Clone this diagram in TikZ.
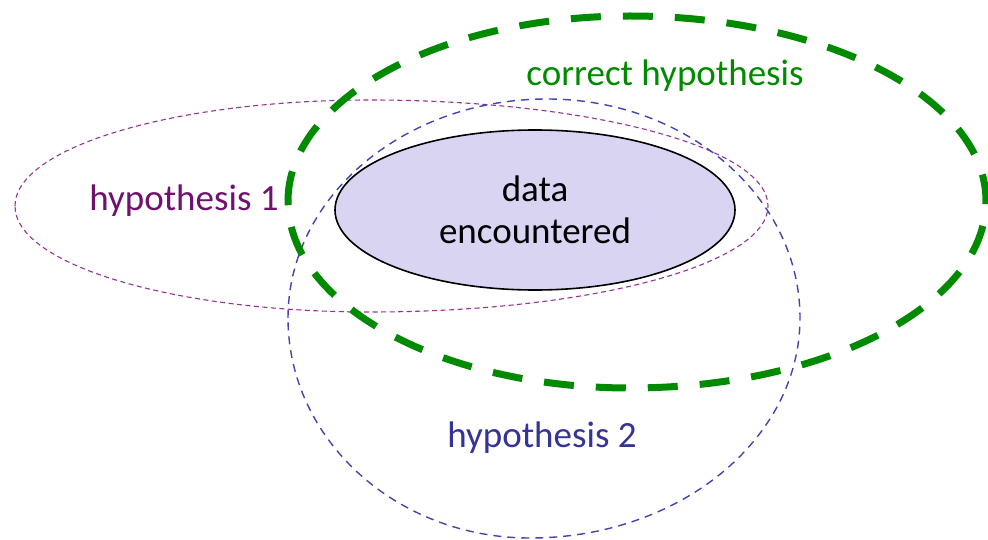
\documentclass[tikz,border=0pt]{standalone}
\usepackage{fontspec}
\setmainfont{Carlito}
\usetikzlibrary{shapes.geometric}
\definecolor{hypA}{RGB}{112,16,112}
\definecolor{hypAline}{RGB}{150,50,150}
\definecolor{hypB}{RGB}{51,51,153}
\definecolor{hypBline}{RGB}{68,68,176}
\definecolor{rightgreen}{RGB}{0,138,0}
\definecolor{datafill}{RGB}{217,212,242}
\tikzset{
  label text/.style={font=\fontsize{37}{42}\selectfont},
}
\begin{document}
\begin{tikzpicture}[x=1pt,y=-1pt]
\useasboundingbox (0,0) rectangle (988,540);
% hypothesis 1
\draw[hypAline,line width=1.1pt,dash pattern=on 5pt off 3.5pt]
  (15,206) arc[start angle=180,end angle=270,x radius=355,y radius=106]
  arc[start angle=270,end angle=360,x radius=398,y radius=106]
  arc[start angle=0,end angle=90,x radius=398,y radius=106]
  arc[start angle=90,end angle=180,x radius=355,y radius=106] -- cycle;
% hypothesis 2
\draw[hypBline,line width=1.4pt,dash pattern=on 8pt off 6pt]
  (288,318) arc[start angle=180,end angle=270,x radius=259,y radius=219]
  arc[start angle=270,end angle=360,x radius=253,y radius=219]
  arc[start angle=0,end angle=90,x radius=270,y radius=220]
  arc[start angle=90,end angle=180,x radius=242,y radius=220] -- cycle;
% correct hypothesis
\draw[rightgreen,line width=7pt,dash pattern=on 30pt off 22pt]
  (288,201) arc[start angle=180,end angle=270,x radius=342,y radius=185]
  arc[start angle=270,end angle=360,x radius=356,y radius=185]
  arc[start angle=0,end angle=90,x radius=356,y radius=187]
  arc[start angle=90,end angle=180,x radius=342,y radius=187] -- cycle;

\node[draw,ellipse,line width=1.6pt,fill=datafill,inner sep=0pt,
  minimum width=400pt,minimum height=160pt,align=center,label text] (data) at (535,210) {data\\encountered};

\node[label text,text=hypA] (hyp1) at (184,201) {hypothesis 1};
\node[label text,text=hypB] (hyp2) at (542,438) {hypothesis 2};
\node[label text,text=rightgreen] (correct) at (665,76) {correct hypothesis};
\end{tikzpicture}
\end{document}
